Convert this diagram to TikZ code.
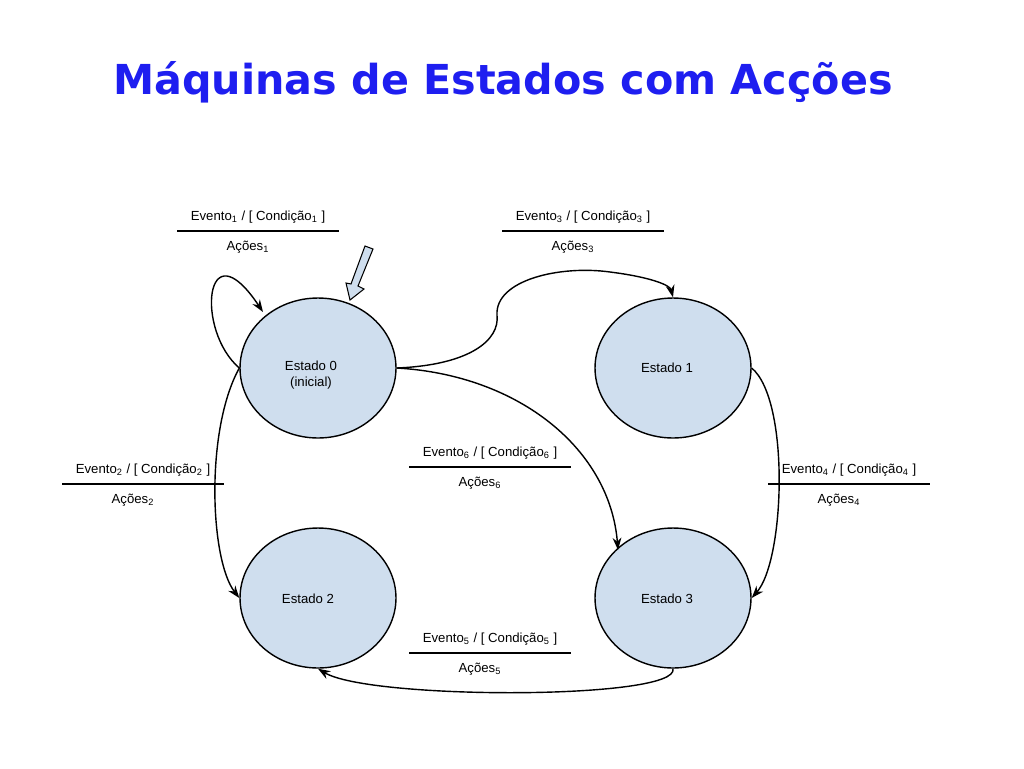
\documentclass[tikz,border=0pt]{standalone}
\usepackage{fontspec}
\setmainfont{Liberation Sans}
\newfontfamily\titlefont{DejaVu Sans}
\usetikzlibrary{arrows.meta, shapes.geometric}
\definecolor{stfill}{RGB}{207,222,238}
\definecolor{titleblue}{RGB}{30,30,240}
\tikzset{
	estado/.style={draw, thick, fill=stfill, ellipse, minimum width=3.12cm, minimum height=2.8cm},
	trans/.style={-{Stealth[length=7pt, width=5pt]}, thick},
	rotulo/.style={font=\fontsize{7.5}{9}\selectfont, inner sep=0pt},
	barra/.style={thick}
}
\begin{document}
\begin{tikzpicture}[x=0.02cm, y=-0.02cm]
				\useasboundingbox (0,0) rectangle (1024,768);
				\node[font=\titlefont\bfseries\fontsize{23.5}{28}\selectfont, text=titleblue] (titulo) at (503,82) {Máquinas de Estados com Acções};
				% estados
				\node[estado] (e0) at (318,368) {};
				\node[estado] (e1) at (673,368) {};
				\node[estado] (e2) at (318,598) {};
				\node[estado] (e3) at (673,598) {};
				\node[rotulo, align=center] (t0) at (311,375) {Estado 0\\(inicial)};
				\node[rotulo] (t1) at (667,368) {Estado 1};
				\node[rotulo] (t2) at (308,599) {Estado 2};
				\node[rotulo] (t3) at (667,599) {Estado 3};
				% rotulos das transicoes
				\foreach \i/\x/\y in {1/258/217, 3/583/217, 2/143/470, 4/849/470, 6/490/453, 5/490/639}
				{
					\node[rotulo] (ev\i) at (\x,\y) {Evento\textsubscript{\i} / [ Condição\textsubscript{\i} ]};
					\draw[barra] (\x-81,\y+14) -- (\x+81,\y+14);
					\node[rotulo] (ac\i) at (\x-10,\y+30) {Ações\textsubscript{\i}};
				}
				% estado inicial
				\draw[fill=stfill, semithick] (365,246) -- (373,249) -- (358,286) -- (364,289) -- (350,300) -- (346,283) -- (351,284) -- cycle;
				% transicoes
				\draw[trans] (e0.180) .. controls (195,330) and (205,225) .. (263,312);
				\draw[trans] (e0.0) .. controls (470,365) and (500,340) .. (497,315) .. controls (495,280) and (560,265) .. (610,272) .. controls (650,277) and (670,285) .. (e1.90);
				\draw[trans] (e0.0) .. controls (520,375) and (610,450) .. (618,550);
				\draw[trans] (e0.180) .. controls (205,430) and (210,560) .. (e2.180);
				\draw[trans] (e1.0) .. controls (790,400) and (785,560) .. (e3.0);
				\draw[trans] (e3.270) .. controls (680,700) and (370,700) .. (e2.270);
\end{tikzpicture}
\end{document}
